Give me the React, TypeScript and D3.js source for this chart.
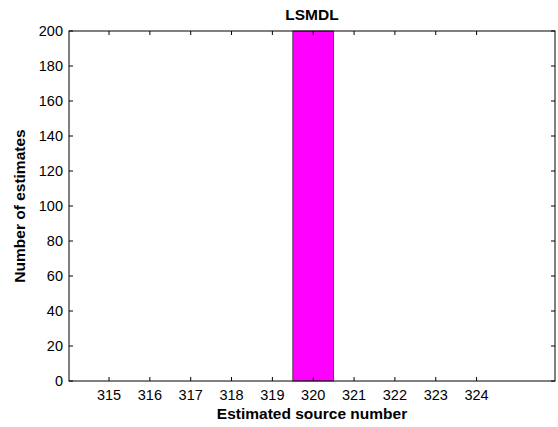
import React, { useEffect, useRef } from "react";
import * as d3 from "d3";

const binCenters = [315, 316, 317, 318, 319, 320, 321, 322, 323, 324];
const counts = [0, 0, 0, 0, 0, 200, 0, 0, 0, 0];
const yTicks = [0, 20, 40, 60, 80, 100, 120, 140, 160, 180, 200];
const title = "LSMDL";
const xLabel = "Estimated source number";
const yLabel = "Number of estimates";

const App = () => {
  const ref = useRef<SVGSVGElement>(null);

  useEffect(() => {
    const W = 558;
    const H = 427;
    const margin = { top: 31, right: 3, bottom: 46, left: 69 };
    const width = W - margin.left - margin.right;
    const height = H - margin.top - margin.bottom;
    const font = "Liberation Sans, Arial, sans-serif";

    const svg = d3.select(ref.current).attr("width", W).attr("height", H);
    svg.selectAll("*").remove();
    svg.append("rect").attr("width", W).attr("height", H).attr("fill", "#fff");

    const g = svg
      .append("g")
      .attr("transform", `translate(${margin.left},${margin.top})`);

    const x = d3.scaleLinear().domain([314.02, 325.92]).range([0, width]);
    const y = d3.scaleLinear().domain([0, 200]).range([height, 0]);

    // bars
    g.selectAll("rect.bar")
      .data(binCenters)
      .enter()
      .append("rect")
      .attr("class", "bar")
      .attr("x", (d) => x(d - 0.5))
      .attr("width", (d) => x(d + 0.5) - x(d - 0.5))
      .attr("y", (d, i) => y(counts[i]))
      .attr("height", (d, i) => y(0) - y(counts[i]))
      .attr("fill", "#ff00ff")
      .attr("stroke", "#333")
      .attr("stroke-width", 0.8);

    // box
    g.append("rect")
      .attr("width", width)
      .attr("height", height)
      .attr("fill", "none")
      .attr("stroke", "#000")
      .attr("stroke-width", 1);

    const tl = 4;
    // x ticks
    binCenters.forEach((d) => {
      g.append("line")
        .attr("x1", x(d)).attr("x2", x(d))
        .attr("y1", height).attr("y2", height - tl)
        .attr("stroke", "#000");
      g.append("line")
        .attr("x1", x(d)).attr("x2", x(d))
        .attr("y1", 0).attr("y2", tl)
        .attr("stroke", "#000");
      g.append("text")
        .attr("x", x(d))
        .attr("y", height + 19)
        .attr("text-anchor", "middle")
        .attr("font-family", font)
        .attr("font-size", 14.5)
        .text(d);
    });

    // y ticks
    yTicks.forEach((d) => {
      g.append("line")
        .attr("x1", 0).attr("x2", tl)
        .attr("y1", y(d)).attr("y2", y(d))
        .attr("stroke", "#000");
      g.append("line")
        .attr("x1", width).attr("x2", width - tl)
        .attr("y1", y(d)).attr("y2", y(d))
        .attr("stroke", "#000");
      g.append("text")
        .attr("x", -6)
        .attr("y", y(d))
        .attr("dy", "0.36em")
        .attr("text-anchor", "end")
        .attr("font-family", font)
        .attr("font-size", 14.5)
        .text(d);
    });

    svg.append("text")
      .attr("x", margin.left + width / 2)
      .attr("y", 20)
      .attr("text-anchor", "middle")
      .attr("font-family", font)
      .attr("font-size", 15.5)
      .attr("font-weight", "bold")
      .text(title);

    svg.append("text")
      .attr("x", margin.left + width / 2)
      .attr("y", 419)
      .attr("text-anchor", "middle")
      .attr("font-family", font)
      .attr("font-size", 15.5)
      .attr("font-weight", "bold")
      .text(xLabel);

    svg.append("text")
      .attr("transform", `translate(25,${margin.top + height / 2}) rotate(-90)`)
      .attr("text-anchor", "middle")
      .attr("font-family", font)
      .attr("font-size", 15.5)
      .attr("font-weight", "bold")
      .text(yLabel);
  }, []);

  return (
    <div style={{ position: "absolute", left: 0, top: 0 }}>
      <svg ref={ref}></svg>
    </div>
  );
};

export default App;
